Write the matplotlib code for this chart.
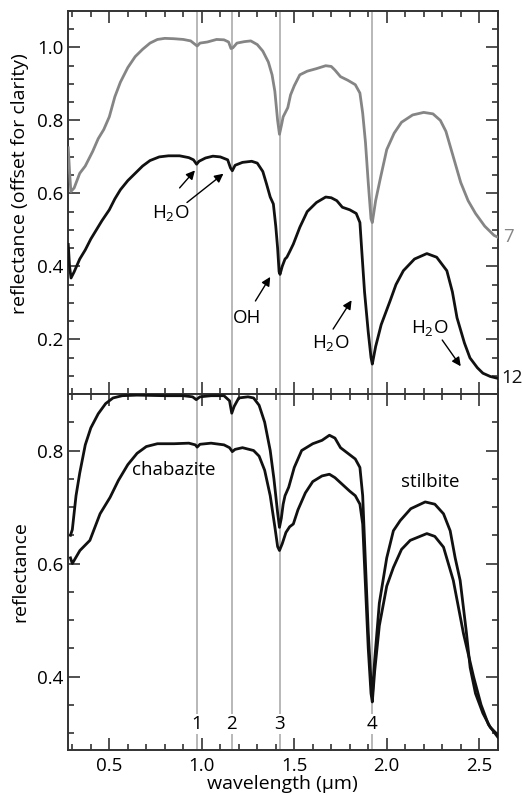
import matplotlib
matplotlib.use("Agg")
import matplotlib.pyplot as plt
from matplotlib.ticker import MultipleLocator
from matplotlib import transforms

plt.rcParams['font.family'] = ['Open Sans', 'DejaVu Sans']
plt.rcParams['mathtext.default'] = 'regular'
plt.rcParams['font.size'] = 13.5

# absorption band positions (um)
bands = [0.973, 1.162, 1.421, 1.921]
band_labels = ['1', '2', '3', '4']

# top panel, sample 7 (grey, offset)
wl_7 = [0.278, 0.285, 0.292, 0.31, 0.34, 0.37, 0.41, 0.44, 0.47, 0.50, 0.53, 0.56,
        0.60, 0.64, 0.68, 0.72, 0.76, 0.80, 0.85, 0.90, 0.94, 0.965, 0.975, 0.99,
        1.03, 1.08, 1.12, 1.145, 1.158, 1.168, 1.19, 1.23, 1.265, 1.30, 1.33, 1.36,
        1.38, 1.395, 1.41, 1.42, 1.43, 1.44, 1.455, 1.465, 1.48, 1.50, 1.53, 1.57,
        1.62, 1.67, 1.70, 1.72, 1.75, 1.79, 1.83, 1.855, 1.87, 1.885, 1.90, 1.915,
        1.922, 1.94, 1.965, 2.00, 2.04, 2.08, 2.14, 2.20, 2.25, 2.29, 2.32, 2.36,
        2.40, 2.44, 2.48, 2.53, 2.58, 2.60]
refl_7 = [0.725, 0.66, 0.605, 0.615, 0.655, 0.675, 0.715, 0.75, 0.775, 0.81, 0.865, 0.905,
          0.945, 0.975, 0.995, 1.012, 1.022, 1.025, 1.024, 1.022, 1.018, 1.008, 1.004, 1.012,
          1.015, 1.022, 1.021, 1.015, 0.997, 0.999, 1.012, 1.016, 1.018, 1.008, 0.99, 0.96,
          0.925, 0.88, 0.80, 0.762, 0.785, 0.81, 0.825, 0.835, 0.87, 0.895, 0.925, 0.935,
          0.942, 0.95, 0.948, 0.938, 0.92, 0.91, 0.898, 0.875, 0.82, 0.74, 0.63, 0.53,
          0.52, 0.58, 0.64, 0.72, 0.765, 0.795, 0.815, 0.822, 0.818, 0.80, 0.77, 0.70,
          0.63, 0.58, 0.545, 0.51, 0.485, 0.48]

# top panel, sample 12 (black)
wl_12 = [0.278, 0.285, 0.293, 0.31, 0.34, 0.37, 0.40, 0.43, 0.46, 0.50, 0.53, 0.56,
         0.60, 0.64, 0.68, 0.72, 0.77, 0.82, 0.88, 0.93, 0.955, 0.972, 0.985, 1.02,
         1.06, 1.10, 1.14, 1.155, 1.165, 1.18, 1.22, 1.27, 1.30, 1.33, 1.35, 1.37,
         1.387, 1.40, 1.41, 1.418, 1.423, 1.435, 1.45, 1.46, 1.475, 1.495, 1.53, 1.57,
         1.62, 1.67, 1.70, 1.73, 1.76, 1.80, 1.835, 1.855, 1.865, 1.88, 1.90, 1.915,
         1.922, 1.94, 1.97, 2.018, 2.05, 2.09, 2.15, 2.217, 2.27, 2.325, 2.355, 2.38,
         2.42, 2.45, 2.49, 2.52, 2.56, 2.60]
refl_12 = [0.46, 0.40, 0.368, 0.385, 0.42, 0.445, 0.475, 0.50, 0.525, 0.555, 0.585, 0.61,
           0.635, 0.655, 0.675, 0.69, 0.70, 0.703, 0.703, 0.698, 0.692, 0.68, 0.688, 0.697,
           0.702, 0.70, 0.692, 0.67, 0.662, 0.677, 0.685, 0.688, 0.683, 0.66, 0.626, 0.59,
           0.571, 0.51, 0.45, 0.385, 0.378, 0.40, 0.42, 0.425, 0.44, 0.461, 0.507, 0.55,
           0.575, 0.59, 0.588, 0.58, 0.562, 0.555, 0.545, 0.52, 0.443, 0.33, 0.22, 0.15,
           0.132, 0.18, 0.24, 0.305, 0.35, 0.388, 0.42, 0.435, 0.425, 0.388, 0.33, 0.259,
           0.19, 0.149, 0.122, 0.107, 0.098, 0.093]

# bottom panel, upper curve
wl_up = [0.29, 0.30, 0.32, 0.34, 0.37, 0.40, 0.44, 0.48, 0.52, 0.57, 0.65, 0.80,
         0.90, 0.95, 0.97, 0.99, 1.05, 1.12, 1.15, 1.162, 1.175, 1.20, 1.25, 1.28,
         1.31, 1.34, 1.37, 1.39, 1.41, 1.42, 1.43, 1.44, 1.45, 1.47, 1.50, 1.54,
         1.60, 1.65, 1.69, 1.72, 1.75, 1.79, 1.83, 1.855, 1.87, 1.885, 1.90, 1.915,
         1.922, 1.935, 1.96, 2.00, 2.036, 2.073, 2.13, 2.208, 2.26, 2.307, 2.343, 2.37,
         2.397, 2.43, 2.451, 2.48, 2.52, 2.56, 2.60]
refl_up = [0.65, 0.66, 0.72, 0.76, 0.81, 0.84, 0.865, 0.883, 0.893, 0.897, 0.898, 0.897,
           0.897, 0.895, 0.89, 0.895, 0.897, 0.897, 0.888, 0.866, 0.878, 0.893, 0.895, 0.893,
           0.88, 0.85, 0.80, 0.75, 0.69, 0.664, 0.68, 0.705, 0.72, 0.735, 0.77, 0.80,
           0.812, 0.818, 0.827, 0.822, 0.805, 0.795, 0.785, 0.77, 0.72, 0.60, 0.48, 0.39,
           0.365, 0.43, 0.53, 0.61, 0.658, 0.676, 0.697, 0.709, 0.705, 0.688, 0.658, 0.61,
           0.57, 0.48, 0.416, 0.37, 0.335, 0.31, 0.297]

# bottom panel, lower curve
wl_low = [0.29, 0.30, 0.341, 0.395, 0.45, 0.504, 0.549, 0.60, 0.65, 0.70, 0.76, 0.85,
          0.93, 0.965, 0.975, 0.99, 1.05, 1.12, 1.15, 1.165, 1.18, 1.22, 1.28, 1.31,
          1.34, 1.37, 1.395, 1.41, 1.42, 1.435, 1.455, 1.475, 1.495, 1.52, 1.56, 1.60,
          1.65, 1.69, 1.72, 1.76, 1.80, 1.83, 1.855, 1.87, 1.885, 1.90, 1.915, 1.922,
          1.935, 1.96, 2.00, 2.036, 2.08, 2.127, 2.217, 2.26, 2.307, 2.36, 2.415, 2.47,
          2.51, 2.55, 2.60]
refl_low = [0.61, 0.60, 0.623, 0.641, 0.688, 0.717, 0.747, 0.775, 0.795, 0.807, 0.812, 0.812,
            0.813, 0.81, 0.806, 0.811, 0.813, 0.81, 0.805, 0.798, 0.802, 0.805, 0.80, 0.79,
            0.765, 0.72, 0.665, 0.63, 0.623, 0.635, 0.655, 0.665, 0.67, 0.695, 0.725, 0.745,
            0.755, 0.758, 0.752, 0.74, 0.728, 0.72, 0.705, 0.67, 0.56, 0.45, 0.37, 0.355,
            0.41, 0.49, 0.56, 0.593, 0.625, 0.641, 0.653, 0.648, 0.629, 0.57, 0.476, 0.399,
            0.35, 0.315, 0.293]

grey = '#858585'
vline = '#ababab'
ink = '#111111'

fig = plt.figure(figsize=(5.22, 7.95), dpi=100)
left, width = 67.7 / 522, 430 / 522
ax1 = fig.add_axes([left, 1 - 394 / 795, width, 383 / 795])
ax2 = fig.add_axes([left, 1 - 750 / 795, width, 356 / 795], sharex=ax1)

for ax in (ax1, ax2):
    for b in bands:
        ax.axvline(b, color=vline, lw=1.2, zorder=1)
    for s in ax.spines.values():
        s.set_linewidth(1.4)
        s.set_color('#333333')
    ax.tick_params(which='both', direction='in', top=True, right=True,
                   color='#333333', width=1.2)
    ax.tick_params(which='major', length=8.5, pad=3)
    ax.tick_params(which='minor', length=4.3)
    ax.xaxis.set_major_locator(MultipleLocator(0.5))
    ax.xaxis.set_minor_locator(MultipleLocator(0.1))
    ax.yaxis.set_major_locator(MultipleLocator(0.2))
    ax.yaxis.set_minor_locator(MultipleLocator(0.05))

# top panel
ax1.plot(wl_7, refl_7, color=grey, lw=2, zorder=3)
ax1.plot(wl_12, refl_12, color=ink, lw=2, zorder=3)
ax1.set_xlim(0.275, 2.6)
ax1.set_ylim(0.05, 1.10)
ax1.tick_params(labelbottom=False)
ax1.set_ylabel('reflectance (offset for clarity)', fontsize=14)
ax1.yaxis.set_label_coords(-0.09, 0.55)

tr1 = transforms.blended_transform_factory(ax1.transAxes, ax1.transData)
ax1.text(1.012, 0.48, '7', color=grey, transform=tr1, va='center', ha='left')
ax1.text(1.008, 0.093, '12', color=ink, transform=tr1, va='center', ha='left')

arrow = dict(arrowstyle='-|>', color='k', lw=1, mutation_scale=13, shrinkA=0, shrinkB=0)
h2o = 'H$_2$O'
ax1.text(0.83, 0.545, h2o, ha='center', va='center')
ax1.annotate('', xy=(0.963, 0.663), xytext=(0.88, 0.615), arrowprops=arrow)
ax1.annotate('', xy=(1.117, 0.654), xytext=(0.92, 0.575), arrowprops=arrow)
ax1.text(1.245, 0.258, 'OH', ha='center', va='center')
ax1.annotate('', xy=(1.37, 0.371), xytext=(1.29, 0.305), arrowprops=arrow)
ax1.text(1.695, 0.19, h2o, ha='center', va='center')
ax1.annotate('', xy=(1.81, 0.307), xytext=(1.71, 0.228), arrowprops=arrow)
ax1.text(2.23, 0.232, h2o, ha='center', va='center')
ax1.annotate('', xy=(2.40, 0.126), xytext=(2.30, 0.198), arrowprops=arrow)

# bottom panel
ax2.plot(wl_up, refl_up, color=ink, lw=2, zorder=3)
ax2.plot(wl_low, refl_low, color=ink, lw=2, zorder=3)
ax2.set_ylim(0.27, 0.90)
ax2.set_ylabel('reflectance', fontsize=14)
ax2.yaxis.set_label_coords(-0.09, 0.5)
ax2.set_xlabel('wavelength (\u03bcm)', fontsize=14, labelpad=0)
ax2.tick_params(axis='x', which='major', pad=5)
ax2.text(0.85, 0.765, 'chabazite', ha='center', va='center')
ax2.text(2.235, 0.745, 'stilbite', ha='center', va='center')
for b, lab in zip(bands, band_labels):
    ax2.text(b, 0.316, lab, ha='center', va='center', zorder=2,
             bbox=dict(facecolor='white', edgecolor='none', pad=1))

fig.savefig('out.png', dpi=100)
